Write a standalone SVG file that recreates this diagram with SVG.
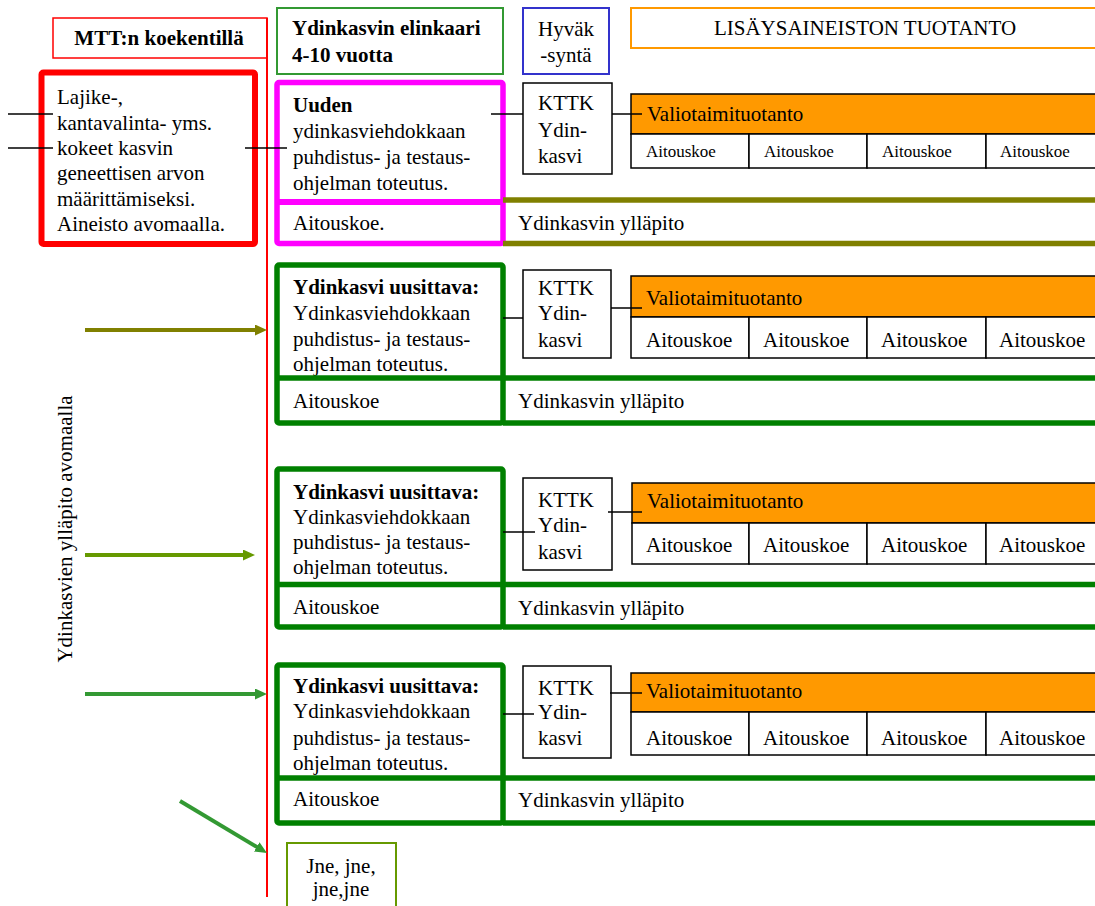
<svg xmlns="http://www.w3.org/2000/svg" width="1095" height="906" viewBox="0 0 1095 906">
<style>
text{font-family:'Liberation Serif','DejaVu Serif',serif;font-size:21px;fill:#000}
.b{font-weight:bold}
.s{font-size:17px}
.m{text-anchor:middle}
.k{fill:#fff;stroke:#000;stroke-width:1.5}
.o{fill:#ff9900;stroke:#000;stroke-width:1.5}
.c{fill:none;stroke:#000;stroke-width:1.5}
.g{fill:none;stroke:#008000;stroke-width:5.5;stroke-linejoin:round}
.gl{stroke:#008000;stroke-width:5.5}
.ol{stroke:#808000;stroke-width:5.5}
</style>
<defs>
<marker id="aO" markerUnits="userSpaceOnUse" markerWidth="12" markerHeight="11" refX="2" refY="5.5" orient="auto"><path d="M0,0 L12,5.5 L0,11 z" fill="#808000"/></marker>
<marker id="aY" markerUnits="userSpaceOnUse" markerWidth="12" markerHeight="11" refX="2" refY="5.5" orient="auto"><path d="M0,0 L12,5.5 L0,11 z" fill="#669900"/></marker>
<marker id="aG" markerUnits="userSpaceOnUse" markerWidth="12" markerHeight="11" refX="2" refY="5.5" orient="auto"><path d="M0,0 L12,5.5 L0,11 z" fill="#339933"/></marker>
</defs>
<rect width="1095" height="906" fill="#fff"/>

<!-- header -->
<g id="h-mtt">
<rect x="53" y="18" width="214" height="40" fill="#fff" stroke="#ff0000" stroke-width="1.5"/>
<text class="b m" x="159" y="45">MTT:n koekentillä</text>
</g>
<g id="h-elinkaari">
<rect x="277" y="8" width="226" height="66" fill="#fff" stroke="#339933" stroke-width="2"/>
<text class="b" x="292" y="35">Ydinkasvin elinkaari</text>
<text class="b" x="292" y="62">4-10 vuotta</text>
</g>
<g id="h-hyvaksynta">
<rect x="523" y="8" width="86" height="66" fill="#fff" stroke="#3333cc" stroke-width="2"/>
<text class="m" x="566" y="36">Hyväk</text>
<text class="m" x="566" y="62">-syntä</text>
</g>
<g id="h-lisays">
<rect x="631" y="8" width="470" height="40" fill="#fff" stroke="#ff9900" stroke-width="2"/>
<text class="m" x="865" y="35">LISÄYSAINEISTON TUOTANTO</text>
</g>

<!-- left red box -->
<g id="n-koekentta">
<rect x="41.5" y="72.5" width="213.5" height="171.5" rx="2" fill="#fff" stroke="#ff0000" stroke-width="6"/>
<text x="57" y="104">Lajike-,</text>
<text x="57" y="129.5">kantavalinta- yms.</text>
<text x="57" y="155">kokeet kasvin</text>
<text x="57" y="180">geneettisen arvon</text>
<text x="57" y="205.5">määrittämiseksi.</text>
<text x="57" y="231">Aineisto avomaalla.</text>
</g>

<text class="m" transform="translate(72,529) rotate(-90)">Ydinkasvien ylläpito avomaalla</text>

<!-- row 1 -->
<g id="row1">
<text class="b" x="293" y="112">Uuden</text>
<text x="293" y="138">ydinkasviehdokkaan</text>
<text x="293" y="163.5">puhdistus- ja testaus-</text>
<text x="293" y="189.5">ohjelman toteutus.</text>
<text x="293" y="230">Aitouskoe.</text>
<rect x="277" y="82.5" width="226" height="161" rx="2" fill="none" stroke="#ff00ff" stroke-width="5.5" stroke-linejoin="round"/>
<line x1="277" y1="202" x2="503" y2="202" stroke="#ff00ff" stroke-width="6"/>
<line class="ol" x1="503" y1="200" x2="1100" y2="200"/>
<line class="ol" x1="503" y1="243.5" x2="1100" y2="243.5"/>
<text x="518" y="230">Ydinkasvin ylläpito</text>
</g>
<g id="kttk1">
<rect class="k" x="523" y="83" width="89" height="91"/>
<text x="538" y="110">KTTK</text>
<text x="538" y="137">Ydin-</text>
<text x="538" y="163">kasvi</text>
</g>
<g id="valio1">
<rect class="o" x="631" y="94" width="470" height="40"/>
<text x="647" y="121">Valiotaimituotanto</text>
<rect class="k" x="631" y="134" width="118" height="34"/>
<rect class="k" x="749" y="134" width="118" height="34"/>
<rect class="k" x="867" y="134" width="119" height="34"/>
<rect class="k" x="986" y="134" width="115" height="34"/>
<text class="s" x="646" y="157">Aitouskoe</text>
<text class="s" x="764" y="157">Aitouskoe</text>
<text class="s" x="882" y="157">Aitouskoe</text>
<text class="s" x="1000" y="157">Aitouskoe</text>
</g>

<!-- row 2 -->
<g id="row2">
<text class="b" x="293" y="294">Ydinkasvi uusittava:</text>
<text x="293" y="320">Ydinkasviehdokkaan</text>
<text x="293" y="346">puhdistus- ja testaus-</text>
<text x="293" y="371">ohjelman toteutus.</text>
<text x="293" y="408">Aitouskoe</text>
<text x="518" y="408">Ydinkasvin ylläpito</text>
<rect class="g" x="277" y="265" width="226" height="158" rx="2"/>
<line class="gl" x1="277" y1="378" x2="1100" y2="378"/>
<line class="gl" x1="503" y1="423" x2="1100" y2="423"/>
</g>
<g id="kttk2">
<rect class="k" x="523" y="270" width="88" height="88"/>
<text x="538" y="295">KTTK</text>
<text x="538" y="320">Ydin-</text>
<text x="538" y="347">kasvi</text>
</g>
<g id="valio2">
<rect class="o" x="631" y="276" width="470" height="41"/>
<text x="646" y="305">Valiotaimituotanto</text>
<rect class="k" x="631" y="317" width="118" height="41"/>
<rect class="k" x="749" y="317" width="118" height="41"/>
<rect class="k" x="867" y="317" width="119" height="41"/>
<rect class="k" x="986" y="317" width="115" height="41"/>
<text x="646" y="347">Aitouskoe</text>
<text x="763" y="347">Aitouskoe</text>
<text x="881" y="347">Aitouskoe</text>
<text x="999" y="347">Aitouskoe</text>
</g>

<!-- row 3 -->
<g id="row3">
<text class="b" x="293" y="499">Ydinkasvi uusittava:</text>
<text x="293" y="524">Ydinkasviehdokkaan</text>
<text x="293" y="549">puhdistus- ja testaus-</text>
<text x="293" y="574">ohjelman toteutus.</text>
<text x="293" y="614">Aitouskoe</text>
<text x="518" y="615">Ydinkasvin ylläpito</text>
<rect class="g" x="277" y="469" width="226" height="158" rx="2"/>
<line class="gl" x1="277" y1="584.5" x2="1100" y2="584.5"/>
<line class="gl" x1="503" y1="627" x2="1100" y2="627"/>
</g>
<g id="kttk3">
<rect class="k" x="523" y="478" width="89" height="92"/>
<text x="538" y="507">KTTK</text>
<text x="538" y="532">Ydin-</text>
<text x="538" y="559">kasvi</text>
</g>
<g id="valio3">
<rect class="o" x="632" y="483" width="469" height="40"/>
<text x="647" y="508">Valiotaimituotanto</text>
<rect class="k" x="632" y="523" width="117" height="41"/>
<rect class="k" x="749" y="523" width="118" height="41"/>
<rect class="k" x="867" y="523" width="119" height="41"/>
<rect class="k" x="986" y="523" width="115" height="41"/>
<text x="646" y="552">Aitouskoe</text>
<text x="763" y="552">Aitouskoe</text>
<text x="881" y="552">Aitouskoe</text>
<text x="999" y="552">Aitouskoe</text>
</g>

<!-- row 4 -->
<g id="row4">
<text class="b" x="293" y="693">Ydinkasvi uusittava:</text>
<text x="293" y="718">Ydinkasviehdokkaan</text>
<text x="293" y="745">puhdistus- ja testaus-</text>
<text x="293" y="770">ohjelman toteutus.</text>
<text x="293" y="806">Aitouskoe</text>
<text x="518" y="807">Ydinkasvin ylläpito</text>
<rect class="g" x="277" y="665" width="226" height="158" rx="2"/>
<line class="gl" x1="277" y1="778" x2="1100" y2="778"/>
<line class="gl" x1="503" y1="823" x2="1100" y2="823"/>
</g>
<g id="kttk4">
<rect class="k" x="523" y="666" width="88" height="92"/>
<text x="538" y="695">KTTK</text>
<text x="538" y="719">Ydin-</text>
<text x="538" y="745">kasvi</text>
</g>
<g id="valio4">
<rect class="o" x="631" y="673" width="470" height="39"/>
<text x="646" y="698">Valiotaimituotanto</text>
<rect class="k" x="631" y="712" width="118" height="43"/>
<rect class="k" x="749" y="712" width="118" height="43"/>
<rect class="k" x="867" y="712" width="119" height="43"/>
<rect class="k" x="986" y="712" width="115" height="43"/>
<text x="646" y="745">Aitouskoe</text>
<text x="763" y="745">Aitouskoe</text>
<text x="881" y="745">Aitouskoe</text>
<text x="999" y="745">Aitouskoe</text>
</g>

<g id="jne">
<rect x="287" y="843" width="109" height="75" fill="#fff" stroke="#669900" stroke-width="2"/>
<text class="m" x="341" y="873">Jne, jne,</text>
<text class="m" x="341" y="896">jne,jne</text>
</g>

<!-- connectors -->
<g id="connectors">
<line x1="267" y1="18" x2="267" y2="897" stroke="#ff0000" stroke-width="2"/>
<line class="c" x1="8" y1="114" x2="53" y2="114"/>
<line class="c" x1="8" y1="148" x2="53" y2="148"/>
<line class="c" x1="245" y1="148" x2="287" y2="148"/>
<line class="c" x1="491" y1="114" x2="523" y2="114"/>
<line class="c" x1="612" y1="114" x2="642" y2="114"/>
<line class="c" x1="503" y1="318" x2="523" y2="318"/>
<line class="c" x1="611" y1="308" x2="642" y2="308"/>
<line class="c" x1="503" y1="532" x2="535" y2="532"/>
<line class="c" x1="608" y1="512" x2="642" y2="512"/>
<line class="c" x1="503" y1="714" x2="534" y2="714"/>
<line class="c" x1="610" y1="693" x2="642" y2="693"/>
<line x1="85" y1="330" x2="257" y2="330" stroke="#808000" stroke-width="4" marker-end="url(#aO)"/>
<line x1="85" y1="555" x2="245" y2="555" stroke="#669900" stroke-width="4" marker-end="url(#aY)"/>
<line x1="85" y1="694" x2="257" y2="694" stroke="#339933" stroke-width="4" marker-end="url(#aG)"/>
<line x1="180" y1="801" x2="258.4" y2="847.9" stroke="#339933" stroke-width="4" marker-end="url(#aG)"/>
</g>
</svg>
